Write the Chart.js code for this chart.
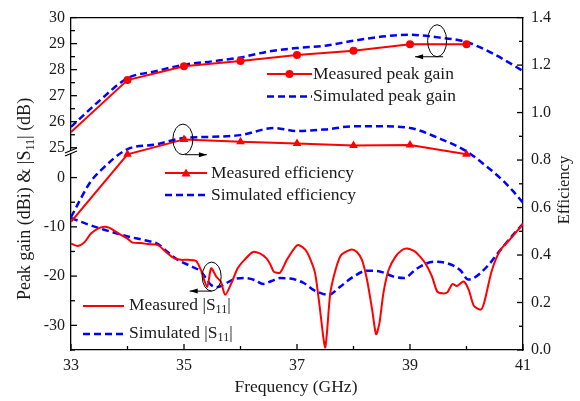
<!DOCTYPE html>
<html>
<head>
<meta charset="utf-8">
<script src="https://cdn.jsdelivr.net/npm/chart.js@4.4.0/dist/chart.umd.min.js"></script>
<style>
  html, body { margin: 0; padding: 0; background: #fff; }
</style>
</head>
<body>
<canvas id="canv" width="580" height="401"></canvas>
<script>
// axis ticks
const freqTicks = [33, 35, 37, 39, 41];
const freqMinor = [34, 36, 38, 40];
const gainTicks = [25, 26, 27, 28, 29, 30];
const gainMinor = [25.5, 26.5, 27.5, 28.5, 29.5];
const s11Ticks = [-30, -20, -10, 0];
const s11Minor = [-35, -25, -15, -5];
const effTicks = [0, 0.2, 0.4, 0.6, 0.8, 1.0, 1.2, 1.4];
const effMinor = [0.1, 0.3, 0.5, 0.7, 0.9, 1.1, 1.3];

// measured gain / efficiency
const measFreq = [33, 34, 35, 36, 37, 38, 39, 40];
const measGain = [25.6, 27.6, 28.13, 28.33, 28.56, 28.73, 28.98, 28.98];
const measEff = [0.54, 0.824, 0.887, 0.877, 0.870, 0.861, 0.863, 0.824];

// simulated gain
const simGainFreq = [33, 33.5, 34, 34.5, 35, 35.5, 36, 36.5, 37, 37.5, 38, 38.5, 39, 39.5, 40, 40.5, 41];
const simGain = [25.8, 26.8, 27.67, 27.94, 28.19, 28.32, 28.47, 28.7, 28.83, 28.92, 29.11, 29.27, 29.34, 29.24, 29.06, 28.58, 27.95];

// simulated efficiency
const simEffFreq = [33, 33.35, 33.5, 34, 34.5, 35, 35.5, 36, 36.6, 37, 37.5, 38, 38.5, 39, 39.5, 40, 40.33, 40.5, 40.66, 40.82, 41];
const simEff = [0.56, 0.71, 0.75, 0.846, 0.866, 0.893, 0.898, 0.905, 0.935, 0.922, 0.929, 0.942, 0.942, 0.935, 0.893, 0.837, 0.778, 0.745, 0.71, 0.67, 0.62];

// measured |S11|
const measS11Freq = [33.00, 33.12, 33.24, 33.35, 33.47, 33.59, 33.68, 33.77, 33.89, 34.00, 34.09, 34.24, 34.36, 34.54, 34.68, 34.83, 34.95, 35.07, 35.21, 35.30, 35.41, 35.48, 35.57, 35.65, 35.73, 35.84, 35.95, 36.07, 36.22, 36.34, 36.46, 36.53, 36.59, 36.70, 36.82, 36.97, 37.03, 37.15, 37.24, 37.32, 37.40, 37.47, 37.50, 37.53, 37.59, 37.68, 37.77, 37.86, 37.97, 38.06, 38.15, 38.24, 38.33, 38.40, 38.46, 38.53, 38.62, 38.74, 38.86, 38.95, 39.07, 39.15, 39.27, 39.39, 39.48, 39.57, 39.66, 39.75, 39.83, 39.95, 40.04, 40.13, 40.25, 40.31, 40.45, 40.60, 40.78, 41.00];
const measS11 = [-13.4, -13.9, -13.1, -11.4, -10.4, -10.0, -10.2, -10.8, -11.7, -12.4, -13.2, -13.3, -13.5, -13.7, -15.1, -16.4, -16.7, -16.7, -16.9, -18.8, -22.2, -18.4, -20.1, -21.1, -23.8, -21.4, -18.4, -16.7, -15.1, -15.4, -16.4, -17.7, -19.1, -19.3, -16.7, -14.1, -13.7, -14.7, -16.7, -19.4, -26.1, -32.8, -34.5, -31.5, -23.4, -18.8, -15.9, -15.1, -14.6, -15.1, -16.7, -20.8, -26.8, -31.8, -29.5, -23.4, -18.8, -16.1, -14.7, -14.4, -14.9, -15.7, -17.4, -20.1, -23.1, -23.5, -23.3, -21.6, -22.0, -21.1, -22.8, -26.0, -26.8, -25.5, -18.8, -14.7, -12.4, -9.4];

// simulated |S11|
const simS11Freq = [33.00, 33.18, 33.35, 33.59, 33.83, 34.06, 34.30, 34.54, 34.71, 34.89, 35.13, 35.30, 35.48, 35.60, 35.72, 35.89, 36.07, 36.25, 36.40, 36.55, 36.70, 36.88, 37.12, 37.29, 37.41, 37.56, 37.77, 38.00, 38.24, 38.48, 38.71, 38.89, 39.13, 39.42, 39.66, 39.89, 40.03, 40.13, 40.36, 40.60, 40.84, 41.00];
const simS11 = [-8.2, -9.0, -9.7, -10.6, -11.4, -12.1, -12.7, -13.5, -15.1, -16.7, -18.0, -19.1, -21.8, -22.2, -21.6, -20.6, -20.4, -20.8, -21.6, -21.0, -20.4, -20.5, -21.4, -22.8, -23.4, -23.8, -22.1, -20.1, -18.9, -19.1, -20.1, -20.4, -18.4, -17.1, -17.4, -18.8, -20.7, -20.4, -18.1, -14.7, -11.4, -9.4];

const RED = '#ff0000';
const BLUE = '#0000ff';
const INK = '#1a1a1a';
const FONT = '"Liberation Serif", "Times New Roman", serif';
const DASH = [7, 4];

function pts(xs, ys) { return xs.map((x, i) => ({x: x, y: ys[i]})); }

// draws text pieces, subscripts smaller and lowered
function subText(ctx, parts, x, y, size, subSize) {
  let cx = x;
  parts.forEach(p => {
    ctx.font = (p[1] ? subSize : size) + 'px ' + FONT;
    ctx.fillText(p[0], cx, p[1] ? y + size * 0.3 : y);
    cx += ctx.measureText(p[0]).width;
  });
  return cx - x;
}
function subWidth(ctx, parts, size, subSize) {
  let w = 0;
  parts.forEach(p => {
    ctx.font = (p[1] ? subSize : size) + 'px ' + FONT;
    w += ctx.measureText(p[0]).width;
  });
  return w;
}

const decor = {
  id: 'decor',
  afterDraw(chart) {
    const ctx = chart.ctx;
    const a = chart.chartArea;
    const sx = chart.scales.x, sTop = chart.scales.yTop, sBot = chart.scales.yBot, sEff = chart.scales.y2;
    ctx.save();
    ctx.strokeStyle = '#000';
    ctx.fillStyle = '#000';
    ctx.lineWidth = 1.3;
    const seg = (x1, y1, x2, y2) => { ctx.beginPath(); ctx.moveTo(x1, y1); ctx.lineTo(x2, y2); ctx.stroke(); };

    // frame top
    seg(a.left, a.top, a.right + 0.6, a.top);

    // inward ticks
    freqTicks.forEach(v => { const p = sx.getPixelForValue(v); seg(p, a.bottom, p, a.bottom - 6); });
    freqMinor.forEach(v => { const p = sx.getPixelForValue(v); seg(p, a.bottom, p, a.bottom - 4); });
    gainTicks.forEach(v => { const p = sTop.getPixelForValue(v); seg(a.left, p, a.left + 6, p); });
    gainMinor.forEach(v => { const p = sTop.getPixelForValue(v); seg(a.left, p, a.left + 4, p); });
    s11Ticks.forEach(v => { const p = sBot.getPixelForValue(v); seg(a.left, p, a.left + 6, p); });
    s11Minor.forEach(v => { const p = sBot.getPixelForValue(v); seg(a.left, p, a.left + 4, p); });
    effTicks.forEach(v => { const p = sEff.getPixelForValue(v); seg(a.right, p, a.right - 6, p); });
    effMinor.forEach(v => { const p = sEff.getPixelForValue(v); seg(a.right, p, a.right - 4, p); });

    // axis break
    const by = sTop.bottom - 1;
    ctx.fillStyle = '#fff';
    ctx.beginPath();
    ctx.moveTo(a.left - 6, by + 1); ctx.lineTo(a.left + 6, by - 4);
    ctx.lineTo(a.left + 6, by - 1); ctx.lineTo(a.left - 6, by + 4);
    ctx.closePath(); ctx.fill();
    ctx.lineWidth = 1.2;
    seg(a.left - 6, by + 1, a.left + 6, by - 4);
    seg(a.left - 6, by + 4, a.left + 6, by - 1);

    // ellipses + arrows
    ctx.lineWidth = 1;
    const ring = (cx, cy, rx, ry, d0, d1) => {
      ctx.beginPath(); ctx.ellipse(cx, cy, rx, ry, 0, 0, Math.PI * 2); ctx.stroke();
      const ay = cy + ry;
      seg(cx + d0, ay, cx + d1, ay);
      const dir = Math.sign(d1 - d0);
      ctx.fillStyle = '#000';
      ctx.beginPath();
      ctx.moveTo(cx + d1, ay);
      ctx.lineTo(cx + d1 - dir * 8, ay - 2.5);
      ctx.lineTo(cx + d1 - dir * 8, ay + 2.5);
      ctx.closePath(); ctx.fill();
    };
    ring(sx.getPixelForValue(39.48), sTop.getPixelForValue(29.11), 9.5, 16, 6, -22);
    ring(sx.getPixelForValue(34.98), sEff.getPixelForValue(0.887), 10, 15.3, 2, 24);
    ring(sx.getPixelForValue(35.49), sBot.getPixelForValue(-20.1), 9.5, 14.5, 0, -22);

    // legend entries
    ctx.textBaseline = 'middle';
    ctx.textAlign = 'left';
    const legLine = (x1, x2, y, color, dashed) => {
      ctx.strokeStyle = color;
      ctx.lineWidth = dashed ? 2.5 : 2;
      ctx.setLineDash(dashed ? DASH : []);
      seg(x1, y, x2, y);
      ctx.setLineDash([]);
    };
    legLine(267, 312, 74, RED, false);
    ctx.fillStyle = RED;
    ctx.beginPath(); ctx.arc(289.5, 74, 4, 0, Math.PI * 2); ctx.fill();
    legLine(267, 312, 96.5, BLUE, true);
    legLine(165, 207, 173, RED, false);
    ctx.fillStyle = RED;
    ctx.beginPath(); ctx.moveTo(186, 168.5); ctx.lineTo(190.5, 176.5); ctx.lineTo(181.5, 176.5); ctx.closePath(); ctx.fill();
    legLine(165, 207, 195, BLUE, true);
    legLine(83, 124, 306, RED, false);
    legLine(83, 124, 334, BLUE, true);

    ctx.fillStyle = INK;
    ctx.font = '17.5px ' + FONT;
    ctx.fillText('Measured peak gain', 313, 74);
    ctx.fillText('Simulated peak gain', 313, 96.5);
    ctx.fillText('Measured efficiency', 211, 173);
    ctx.fillText('Simulated efficiency', 211, 195);
    subText(ctx, [['Measured |S', false], ['11', true], ['|', false]], 129, 305, 17.5, 12);
    subText(ctx, [['Simulated |S', false], ['11', true], ['|', false]], 129, 333, 17.5, 12);

    // axis titles
    ctx.font = '17.5px ' + FONT;
    ctx.textAlign = 'center';
    ctx.fillText('Frequency (GHz)', 296, 387);

    ctx.save();
    ctx.font = '16.5px ' + FONT;
    ctx.translate(565, 190);
    ctx.rotate(-Math.PI / 2);
    ctx.fillText('Efficiency', 0, 0);
    ctx.restore();

    ctx.save();
    ctx.translate(25, 199);
    ctx.rotate(-Math.PI / 2);
    ctx.textAlign = 'left';
    const leftTitle = [['Peak gain (dBi) & |S', false], ['11', true], ['| (dB)', false]];
    const w = subWidth(ctx, leftTitle, 18, 12);
    subText(ctx, leftTitle, -w / 2, 0, 18, 12);
    ctx.restore();

    ctx.restore();
  }
};

const tickFont = { family: FONT, size: 16 };
const firstHidden = (n, r) => Array.from({length: n}, (_, i) => i === 0 ? 0 : r);

new Chart(document.getElementById('canv').getContext('2d'), {
  type: 'line',
  data: {
    datasets: [
      {
        label: 'Measured peak gain', data: pts(measFreq, measGain), yAxisID: 'yTop',
        borderColor: RED, backgroundColor: RED, borderWidth: 2,
        pointStyle: 'circle', pointRadius: firstHidden(measFreq.length, 4), pointBorderWidth: 0, tension: 0
      },
      {
        label: 'Measured efficiency', data: pts(measFreq, measEff), yAxisID: 'y2',
        borderColor: RED, backgroundColor: RED, borderWidth: 2,
        pointStyle: 'triangle', pointRadius: firstHidden(measFreq.length, 5), pointBorderWidth: 0, tension: 0
      },
      {
        label: 'Measured |S11|', data: pts(measS11Freq, measS11), yAxisID: 'yBot',
        borderColor: RED, borderWidth: 2, pointRadius: 0, tension: 0.25
      },
      {
        label: 'Simulated peak gain', data: pts(simGainFreq, simGain), yAxisID: 'yTop',
        borderColor: BLUE, borderWidth: 2.5, borderDash: DASH, pointRadius: 0, cubicInterpolationMode: 'monotone'
      },
      {
        label: 'Simulated efficiency', data: pts(simEffFreq, simEff), yAxisID: 'y2',
        borderColor: BLUE, borderWidth: 2.5, borderDash: DASH, pointRadius: 0, cubicInterpolationMode: 'monotone'
      },
      {
        label: 'Simulated |S11|', data: pts(simS11Freq, simS11), yAxisID: 'yBot',
        borderColor: BLUE, borderWidth: 2.5, borderDash: DASH, pointRadius: 0, cubicInterpolationMode: 'monotone'
      }
    ]
  },
  options: {
    responsive: false,
    animation: false,
    devicePixelRatio: 1,
    layout: { padding: { top: 16, left: 0, right: 0, bottom: 0 } },
    plugins: { legend: { display: false }, tooltip: { enabled: false } },
    scales: {
      x: {
        type: 'linear', min: 33, max: 41,
        grid: { display: false, drawTicks: false },
        border: { display: true, color: '#000', width: 1.3 },
        ticks: { font: tickFont, color: INK, padding: 6, maxRotation: 0, autoSkip: false },
        afterBuildTicks: s => { s.ticks = freqTicks.map(v => ({ value: v })); },
        afterFit: s => { s.height = 51; }
      },
      yBot: {
        type: 'linear', position: 'left', stack: 'left', stackWeight: 198,
        min: -35, max: 5,
        grid: { display: false, drawTicks: false },
        border: { display: true, color: '#000', width: 1.3 },
        ticks: { font: tickFont, color: INK, padding: 6, autoSkip: false },
        afterBuildTicks: s => { s.ticks = s11Ticks.map(v => ({ value: v })); },
        afterFit: s => { s.width = 71; }
      },
      yTop: {
        type: 'linear', position: 'left', stack: 'left', stackWeight: 136,
        min: 24.8, max: 30,
        grid: { display: false, drawTicks: false },
        border: { display: true, color: '#000', width: 1.3 },
        ticks: { font: tickFont, color: INK, padding: 6, autoSkip: false },
        afterBuildTicks: s => { s.ticks = gainTicks.map(v => ({ value: v })); },
        afterFit: s => { s.width = 71; }
      },
      y2: {
        type: 'linear', position: 'right', min: 0, max: 1.4,
        grid: { display: false, drawTicks: false },
        border: { display: true, color: '#000', width: 1.3 },
        ticks: { font: tickFont, color: INK, padding: 8, autoSkip: false, callback: v => v.toFixed(1) },
        afterBuildTicks: s => { s.ticks = effTicks.map(v => ({ value: v })); },
        afterFit: s => { s.width = 57; }
      }
    }
  },
  plugins: [decor]
});
</script>
</body>
</html>
